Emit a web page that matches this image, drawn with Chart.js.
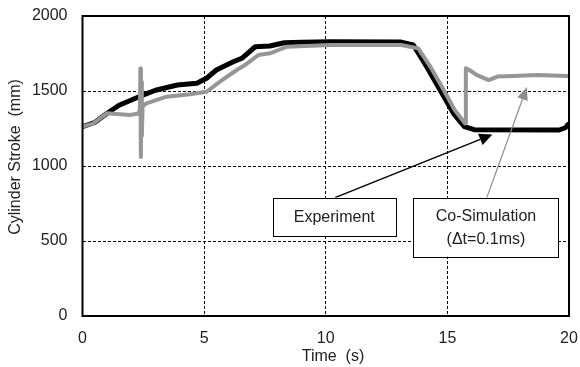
<!DOCTYPE html>
<html>
<head>
<meta charset="utf-8">
<script src="https://cdn.jsdelivr.net/npm/chart.js@4"></script>
<style>
  html, body { margin: 0; padding: 0; background: #fff; }
  #wrap { width: 580px; height: 367px; }
</style>
</head>
<body>
<div id="wrap"><canvas id="strokeChart" width="580" height="367"></canvas></div>
<script>
// Experiment (black)
const expTime = [0, 0.5, 1.0, 1.5, 2.4, 3.0, 3.9, 4.7, 5.1, 5.5, 6.2, 6.55, 7.1, 7.7, 8.3, 9.0, 10.2, 13.1, 13.6, 14.15, 14.7, 15.25, 15.7, 16.1, 19.6, 19.85, 20];
const expStroke = [1262, 1290, 1350, 1405, 1467, 1505, 1540, 1552, 1585, 1640, 1695, 1718, 1795, 1800, 1822, 1825, 1829, 1826, 1807, 1662, 1507, 1351, 1262, 1242, 1240, 1255, 1285];

// Co-Simulation (grey)
const simTime = [0, 0.45, 1.0, 1.95, 2.3, 2.36, 2.38, 2.40, 2.42, 2.44, 2.47, 2.63, 3.46, 4.42, 5.1, 5.65, 6.34, 6.68, 7.23, 7.71, 8.4, 10.2, 13.1, 13.8, 14.3, 14.85, 15.3, 15.73, 15.76, 15.9, 16.2, 16.7, 17.05, 17.7, 18.7, 19.9, 20];
const simStroke = [1262, 1284, 1351, 1340, 1350, 1380, 1650, 1060, 1560, 1200, 1400, 1418, 1462, 1478, 1495, 1562, 1640, 1673, 1740, 1751, 1795, 1807, 1807, 1784, 1662, 1507, 1373, 1284, 1651, 1640, 1607, 1573, 1596, 1600, 1607, 1600, 1600];

const xTicks = [0, 5, 10, 15, 20];
const yTicks = [0, 500, 1000, 1500, 2000];

const FONT = '"Liberation Sans", Arial, sans-serif';
const INK = '#222';

function toPoints(xs, ys) {
  return xs.map((x, i) => ({ x, y: ys[i] }));
}

function drawArrow(ctx, x1, y1, x2, y2, color, width, headLen, headHalf) {
  const ang = Math.atan2(y2 - y1, x2 - x1);
  const bx = x2 - headLen * Math.cos(ang);
  const by = y2 - headLen * Math.sin(ang);
  ctx.save();
  ctx.strokeStyle = color;
  ctx.fillStyle = color;
  ctx.lineWidth = width;
  ctx.beginPath();
  ctx.moveTo(x1, y1);
  ctx.lineTo(bx, by);
  ctx.stroke();
  ctx.beginPath();
  ctx.moveTo(x2, y2);
  ctx.lineTo(bx + headHalf * Math.sin(ang), by - headHalf * Math.cos(ang));
  ctx.lineTo(bx - headHalf * Math.sin(ang), by + headHalf * Math.cos(ang));
  ctx.closePath();
  ctx.fill();
  ctx.restore();
}

function drawBox(ctx, sx, sy, x, y, x2, y2, lines) {
  const left = sx(x), right = sx(x2), top = sy(y), bottom = sy(y2);
  ctx.save();
  ctx.fillStyle = '#fff';
  ctx.fillRect(left, top, right - left, bottom - top);
  ctx.strokeStyle = '#000';
  ctx.lineWidth = 1;
  ctx.strokeRect(Math.round(left) + 0.5, Math.round(top) + 0.5, Math.round(right - left), Math.round(bottom - top));
  ctx.fillStyle = INK;
  ctx.font = '16px ' + FONT;
  ctx.textAlign = 'center';
  ctx.textBaseline = 'middle';
  const cx = (left + right) / 2;
  const lh = 23;
  const startY = (top + bottom) / 2 - (lines.length - 1) * lh / 2 + 1;
  lines.forEach((t, i) => ctx.fillText(t, cx, startY + i * lh));
  ctx.restore();
}

const decorations = {
  id: 'decorations',
  afterDatasetsDraw(chart) {
    const { ctx, chartArea: a, scales } = chart;
    const sx = (v) => scales.x.getPixelForValue(v);
    const sy = (v) => scales.y.getPixelForValue(v);

    // arrows
    drawArrow(ctx, sx(10.38), sy(789), sx(16.85), sy(1210), '#000', 1.5, 13, 6);
    drawArrow(ctx, sx(16.62), sy(789), sx(18.27), sy(1527), '#8c8c8c', 1.2, 13, 5.5);

    // text boxes
    drawBox(ctx, sx, sy, 7.82, 789, 12.88, 535, ['Experiment']);
    drawBox(ctx, sx, sy, 13.6, 789, 19.57, 395, ['Co-Simulation', '(\u0394t=0.1ms)']);

    // plot frame
    ctx.save();
    ctx.strokeStyle = '#000';
    ctx.lineWidth = 2;
    ctx.strokeRect(a.left, a.top, a.right - a.left, a.bottom - a.top);
    ctx.restore();

    // axis titles
    ctx.save();
    ctx.fillStyle = INK;
    ctx.font = '16px ' + FONT;
    ctx.textAlign = 'center';
    ctx.textBaseline = 'middle';
    ctx.fillText('Time  (s)', 333, 357);
    ctx.translate(16, 157);
    ctx.rotate(-Math.PI / 2);
    ctx.fillText('Cylinder Stroke  (mm)', 0, 0);
    ctx.restore();
  }
};

new Chart(document.getElementById('strokeChart'), {
  type: 'line',
  data: {
    datasets: [
      {
        label: 'Co-Simulation (\u0394t=0.1ms)',
        data: toPoints(simTime, simStroke),
        borderColor: '#969696',
        borderWidth: 4,
        borderJoinStyle: 'round',
        pointRadius: 0,
        tension: 0,
        order: 0,
      },
      {
        label: 'Experiment',
        data: toPoints(expTime, expStroke),
        borderColor: '#000',
        borderWidth: 5,
        borderJoinStyle: 'round',
        pointRadius: 0,
        tension: 0,
        order: 1,
      },
    ],
  },
  options: {
    responsive: false,
    animation: false,
    events: [],
    layout: { padding: { left: 0, right: 11, top: 16, bottom: 0 } },
    plugins: { legend: { display: false }, tooltip: { enabled: false } },
    scales: {
      x: {
        type: 'linear',
        min: 0,
        max: 20,
        afterBuildTicks: (s) => { s.ticks = xTicks.map((v) => ({ value: v })); },
        afterFit: (s) => { s.height = 51; s.paddingLeft = 0; s.paddingRight = 0; },
        ticks: { color: INK, font: { family: FONT, size: 16 }, padding: 13, maxRotation: 0, callback: (v) => String(v) },
        grid: { color: '#000', lineWidth: 1, drawTicks: false },
        border: { display: false, dash: [3, 2] },
      },
      y: {
        type: 'linear',
        min: 0,
        max: 2000,
        afterBuildTicks: (s) => { s.ticks = yTicks.map((v) => ({ value: v })); },
        afterFit: (s) => { s.width = 82.5; s.paddingTop = 0; s.paddingBottom = 0; },
        ticks: { color: INK, font: { family: FONT, size: 16 }, padding: 15, callback: (v) => String(v) },
        grid: { color: '#000', lineWidth: 1, drawTicks: false },
        border: { display: false, dash: [3, 2] },
      },
    },
  },
  plugins: [decorations],
});
</script>
</body>
</html>
